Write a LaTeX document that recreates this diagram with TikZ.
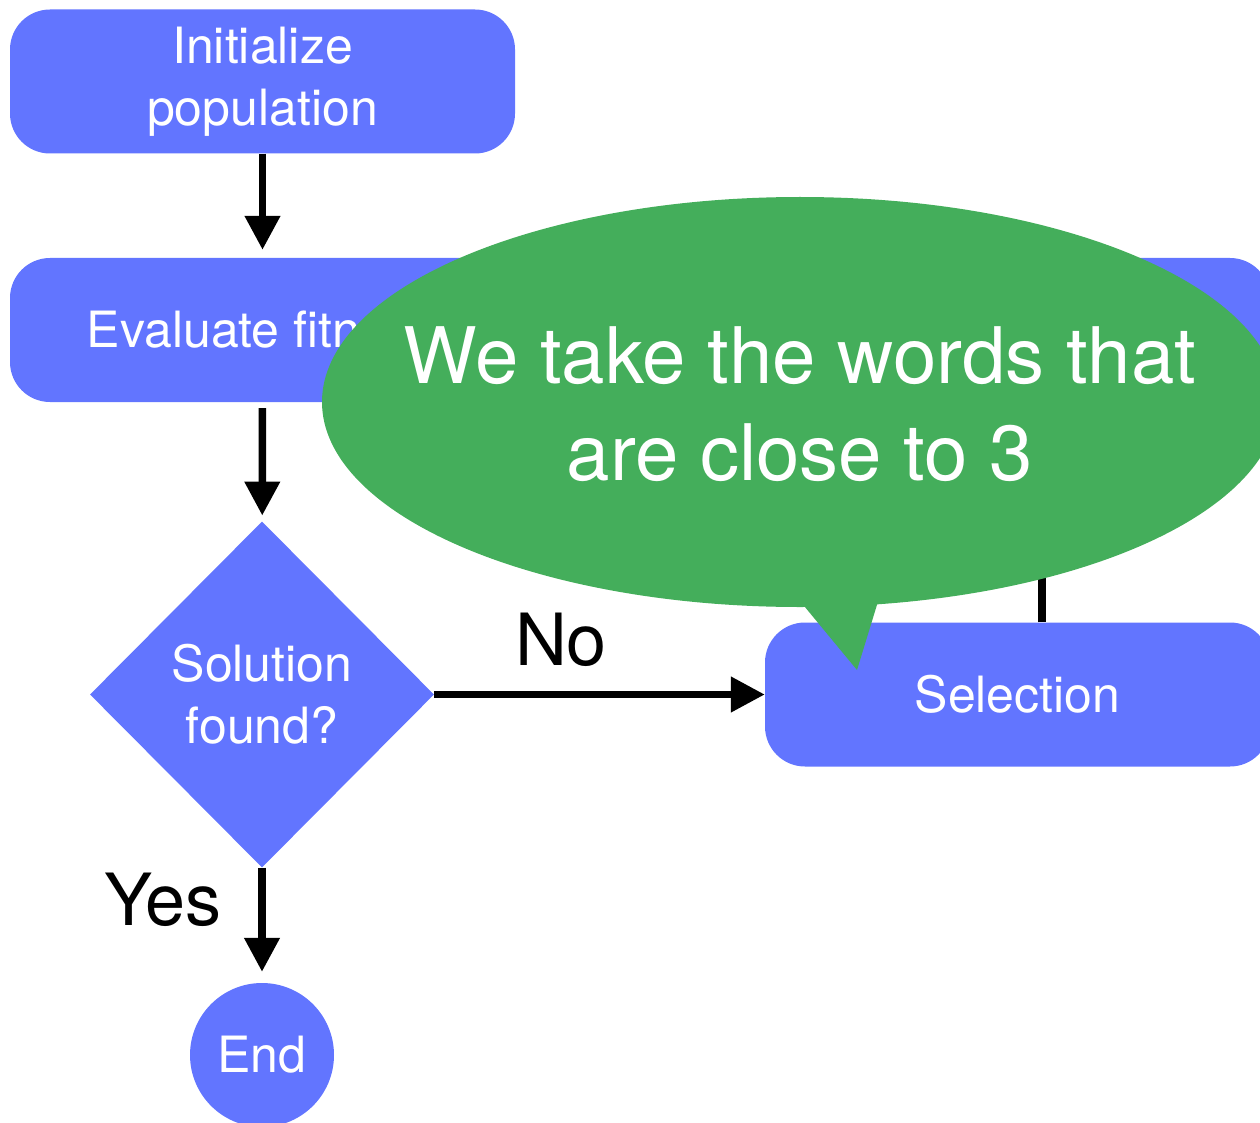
\documentclass[tikz,border=0pt]{standalone}
\usepackage{fontspec}
\setmainfont{TeX Gyre Heros}
\usetikzlibrary{arrows.meta,shapes.geometric}
\definecolor{flowblue}{RGB}{98,117,255}
\definecolor{notegreen}{RGB}{68,174,91}
\begin{document}
\begin{tikzpicture}[x=1pt,y=-1pt,
  stepbox/.style={fill=flowblue, rounded corners=40pt, minimum width=505pt,
    minimum height=144pt, inner sep=0pt, text=white, align=center,
    font=\fontsize{50}{62}\selectfont},
  decision/.style={fill=flowblue, shape=diamond, minimum width=344pt,
    minimum height=346pt, inner sep=0pt, text=white, align=center,
    font=\fontsize{50}{62}\selectfont},
  terminal/.style={fill=flowblue, circle, minimum size=144pt, inner sep=0pt,
    text=white, font=\fontsize{50}{62}\selectfont},
  flow/.style={line width=7.5pt, -{Triangle[width=34pt,length=34pt]}},
  branch/.style={font=\fontsize{72}{86}\selectfont, anchor=base},
  notetext/.style={text=white, align=center, font=\fontsize{78}{97}\selectfont}]

\useasboundingbox (0,0) rectangle (1260,1123);
\clip (0,0) rectangle (1260,1123);

% flowchart steps
\node[stepbox] (init) at (262.5,81.5) {Initialize\\population};
\node[stepbox] (eval) at (262.5,330) {Evaluate fitness};
\node[stepbox] (cross) at (1017.5,330) {};
\node[decision] (found) at (262,694.5) {Solution\\found?};
\node[stepbox] (sel) at (1017.5,694.5) {Selection};
\node[terminal] (end) at (262,1055) {End};

% connectors
\draw[flow, shorten >=8pt] (init) -- (eval);
\draw[flow, shorten <=6pt, shorten >=6pt] (eval) -- (found);
\draw[flow, shorten >=11pt] (found) -- (end);
\draw[flow] (found.east) -- (sel.west);
\draw[flow, shorten >=6pt] ([xshift=24.5pt]sel.north) -- ([xshift=24.5pt]cross.south);

% branch labels
\node[branch] (no) at (561,665) {No};
\node[branch] (yes) at (163,925) {Yes};

% speech bubble
\fill[notegreen] (800,402) ellipse [x radius=478, y radius=205];
\fill[notegreen] (795,595) -- (857,670) -- (880,595) -- cycle;
\node[notetext] (note) at (800,404) {We take the words that\\are close to 3};
\end{tikzpicture}
\end{document}
